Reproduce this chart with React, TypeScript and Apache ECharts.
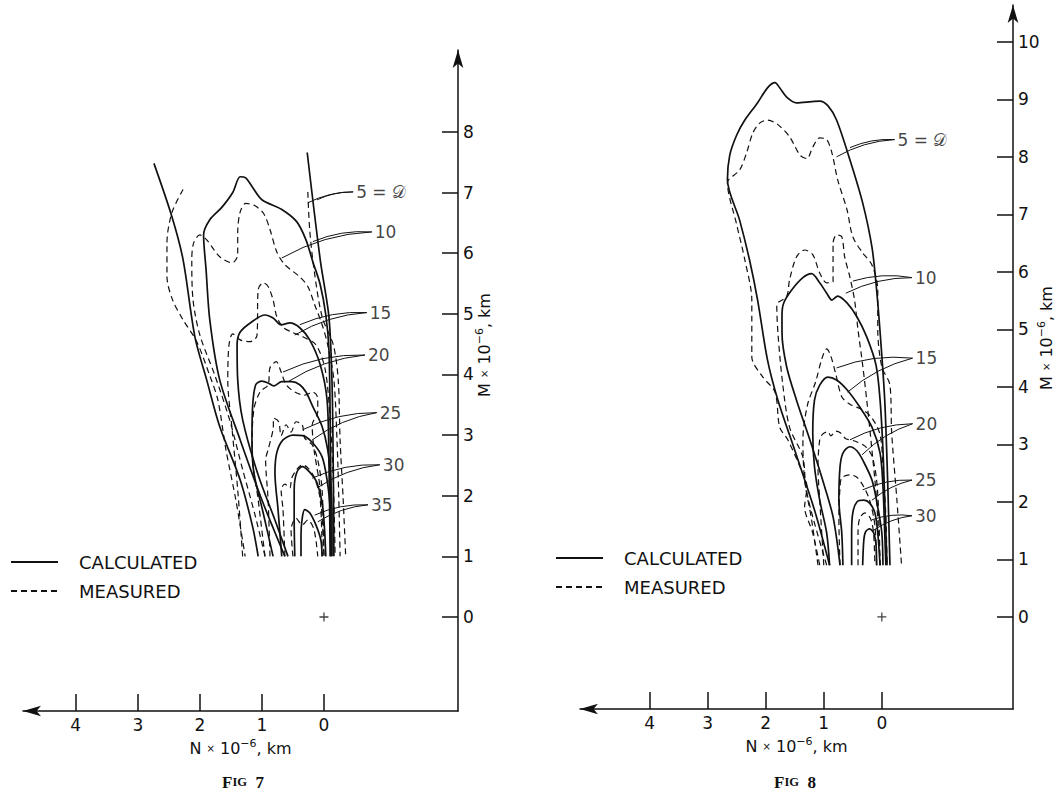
import React, { useEffect, useRef } from 'react';
import * as echarts from 'echarts';

const FONT = '"DejaVu Sans", "Liberation Sans", sans-serif';
const INK = '#111';

// ---------- Fig 7 contours, points are [N, M] (x 10^-6 km) ----------
const f7Calc5L = [[2.74,7.48],[2.45,6.60],[2.27,5.89],[2.08,4.62],[1.89,3.91],[1.68,3.14],[1.35,2.26],[1.15,1.49],[1.06,1.00]];
const f7Calc5R = [[0.27,7.66],[0.06,5.89],[-0.08,4.95],[-0.13,3.86],[-0.15,2.43],[-0.16,1.00]];
const f7Meas5L = [[2.27,7.05],[2.45,6.67],[2.53,6.17],[2.53,5.61],[2.44,5.23],[2.27,4.90],[2.05,4.54],[1.84,3.98],[1.71,3.58],[1.58,2.76],[1.42,1.93],[1.27,1.00]];
const f7Meas5R = [[0.26,7.01],[0.23,6.39],[0.16,5.73],[0.03,4.95],[-0.15,4.49],[-0.23,3.91],[-0.26,2.92],[-0.31,1.93],[-0.35,1.00]];
const f7Calc10 = [[0.63,1.00],[1.00,1.93],[1.35,2.92],[1.68,3.91],[1.84,4.90],[1.90,5.73],[1.94,6.30],[1.84,6.55],[1.65,6.75],[1.47,7.00],[1.35,7.26],[1.26,7.24],[1.16,7.10],[1.00,6.88],[0.68,6.72],[0.44,6.52],[0.29,6.22],[0.18,5.86],[0.06,5.48],[-0.03,4.98],[-0.08,4.41],[-0.10,3.25],[-0.11,2.10],[-0.11,1.00]];
const f7Meas10 = [[0.95,1.00],[1.11,1.68],[1.31,2.43],[1.52,3.25],[1.76,3.99],[2.00,4.65],[2.11,5.23],[2.13,5.89],[2.10,6.17],[2.00,6.30],[1.89,6.22],[1.68,5.94],[1.48,5.84],[1.39,5.97],[1.39,6.34],[1.35,6.68],[1.26,6.82],[1.11,6.78],[0.97,6.65],[0.87,6.39],[0.76,6.02],[0.63,5.81],[0.39,5.61],[0.26,5.45],[0.15,5.15],[0.03,4.82],[-0.06,4.49],[-0.16,3.91],[-0.21,2.92],[-0.24,1.93],[-0.26,1.00]];
const f7Calc15 = [[0.58,1.00],[0.79,1.60],[1.06,2.34],[1.31,3.25],[1.39,3.91],[1.40,4.49],[1.35,4.70],[1.16,4.87],[0.95,4.98],[0.82,4.93],[0.69,4.82],[0.55,4.85],[0.39,4.77],[0.23,4.57],[0.06,4.16],[-0.05,3.58],[-0.08,2.59],[-0.10,1.00]];
const f7Meas15 = [[1.31,1.00],[1.39,2.10],[1.48,3.09],[1.55,3.91],[1.53,4.49],[1.47,4.67],[1.35,4.57],[1.19,4.54],[1.08,4.64],[1.06,5.40],[0.98,5.51],[0.90,5.45],[0.82,5.23],[0.76,4.95],[0.65,4.77],[0.50,4.69],[0.34,4.62],[0.13,4.49],[-0.02,4.08],[-0.10,3.25],[-0.15,2.26],[-0.18,1.00]];
const f7Calc20 = [[0.82,1.00],[0.98,1.72],[1.13,2.38],[1.16,2.92],[1.15,3.47],[1.10,3.83],[1.00,3.89],[0.90,3.86],[0.81,3.81],[0.68,3.88],[0.52,3.88],[0.39,3.83],[0.29,3.71],[0.18,3.47],[0.03,3.14],[-0.06,2.76],[-0.11,2.26],[-0.13,1.60],[-0.13,1.00]];
const f7Meas20 = [[0.95,1.00],[1.06,1.93],[1.16,2.76],[1.13,3.42],[1.03,3.71],[0.90,3.83],[0.87,4.11],[0.77,4.21],[0.69,4.04],[0.61,3.83],[0.47,3.71],[0.31,3.66],[0.18,3.71],[0.10,3.61],[0.10,3.38],[0.19,3.17],[0.16,2.76],[0.06,2.10],[0.00,1.00]];
const f7Calc25 = [[0.68,1.00],[0.74,1.77],[0.79,2.38],[0.76,2.71],[0.66,2.92],[0.50,3.00],[0.34,2.99],[0.18,2.87],[0.03,2.64],[-0.05,2.26],[-0.10,1.77],[-0.11,1.00]];
const f7Meas25 = [[0.87,1.00],[0.90,1.93],[0.94,2.59],[0.90,2.76],[0.82,3.09],[0.81,3.28],[0.73,3.22],[0.69,2.99],[0.61,3.17],[0.53,3.05],[0.45,3.22],[0.35,3.17],[0.31,2.95],[0.19,2.84],[0.10,2.59],[0.03,2.10],[0.00,1.00]];
const f7Calc30 = [[0.47,1.00],[0.48,1.60],[0.48,2.10],[0.44,2.38],[0.35,2.48],[0.23,2.39],[0.11,2.21],[0.02,1.82],[-0.03,1.00]];
const f7Meas30 = [[0.63,1.00],[0.66,1.77],[0.69,2.10],[0.63,2.19],[0.55,2.13],[0.52,2.29],[0.44,2.43],[0.35,2.51],[0.26,2.46],[0.15,2.29],[0.06,1.93],[0.03,1.00]];
const f7Calc35 = [[0.37,1.00],[0.37,1.35],[0.35,1.63],[0.31,1.77],[0.23,1.72],[0.13,1.52],[0.05,1.27],[0.03,1.00]];
const f7Meas35 = [[0.50,1.00],[0.53,1.44],[0.45,1.63],[0.35,1.52],[0.26,1.60],[0.16,1.44],[0.10,1.00]];

const f7CalcCurves = [f7Calc5L, f7Calc5R, f7Calc10, f7Calc15, f7Calc20, f7Calc25, f7Calc30, f7Calc35];
const f7MeasCurves = [f7Meas5L, f7Meas5R, f7Meas10, f7Meas15, f7Meas20, f7Meas25, f7Meas30, f7Meas35];

const f7Labels = ['5 = 𝒟', '10', '15', '20', '25', '30', '35'];
const f7Anchors = [[-0.47,7.01],[-0.77,6.35],[-0.69,5.02],[-0.66,4.32],[-0.85,3.37],[-0.90,2.51],[-0.71,1.85]];
const f7TargetsA = [[0.26,6.83],[0.68,5.92],[0.39,4.82],[0.66,4.04],[0.34,3.09],[0.19,2.29],[0.15,1.68]];
const f7TargetsB = [[0.11,6.88],[0.18,6.19],[0.47,4.65],[0.58,3.88],[0.19,2.92],[0.11,2.13],[0.10,1.57]];

// ---------- Fig 8 contours ----------
const f8Calc5 = [[0.90,0.90],[1.16,1.86],[1.50,2.90],[1.79,3.77],[1.97,4.47],[2.14,5.51],[2.28,6.21],[2.45,6.90],[2.66,7.60],[2.62,8.03],[2.50,8.38],[2.36,8.64],[2.14,8.94],[1.97,9.20],[1.84,9.29],[1.76,9.20],[1.64,9.04],[1.47,8.94],[1.21,8.96],[1.07,8.97],[0.93,8.89],[0.78,8.64],[0.55,7.95],[0.33,7.20],[0.17,6.43],[0.09,5.69],[0.02,4.82],[-0.05,3.77],[-0.10,2.38],[-0.14,0.90]];
const f8Meas5 = [[1.07,0.90],[1.19,1.46],[1.33,1.91],[1.29,2.26],[1.41,2.61],[1.62,3.08],[1.76,3.30],[1.84,3.91],[2.05,4.17],[2.24,4.52],[2.24,5.51],[2.36,6.21],[2.50,6.82],[2.66,7.55],[2.45,7.77],[2.33,8.07],[2.22,8.42],[2.10,8.59],[1.97,8.64],[1.79,8.56],[1.59,8.35],[1.41,8.03],[1.29,7.97],[1.19,8.17],[1.07,8.33],[0.95,8.30],[0.86,8.07],[0.76,7.60],[0.60,7.08],[0.50,6.61],[0.33,6.33],[0.17,6.12],[0.07,5.69],[0.07,4.99],[0.00,4.35],[-0.14,4.03],[-0.17,3.20],[-0.26,2.03],[-0.34,0.90]];
const f8Calc10 = [[0.72,0.90],[0.84,1.74],[1.02,2.38],[1.24,3.08],[1.47,3.77],[1.64,4.35],[1.72,4.94],[1.72,5.25],[1.69,5.46],[1.55,5.69],[1.36,5.90],[1.21,5.97],[1.07,5.81],[0.95,5.63],[0.86,5.51],[0.76,5.58],[0.60,5.46],[0.43,5.22],[0.26,4.87],[0.10,4.38],[0.03,3.77],[-0.02,2.90],[-0.05,2.03],[-0.09,0.90]];
const f8Meas10 = [[0.95,0.90],[1.19,1.74],[1.31,2.26],[1.36,2.78],[1.59,3.30],[1.71,4.07],[1.79,4.94],[1.81,5.43],[1.64,5.57],[1.59,5.86],[1.47,6.26],[1.33,6.38],[1.19,6.30],[1.07,5.98],[0.95,5.81],[0.84,5.83],[0.84,6.50],[0.78,6.64],[0.69,6.61],[0.64,6.26],[0.55,5.91],[0.47,5.51],[0.41,4.99],[0.33,4.38],[0.26,3.77],[0.17,2.90],[0.09,2.03],[0.03,0.90]];
const f8Calc15 = [[0.90,0.90],[0.95,1.46],[1.07,2.03],[1.16,2.61],[1.19,3.20],[1.16,3.77],[1.07,4.03],[0.93,4.17],[0.78,4.12],[0.60,3.95],[0.38,3.65],[0.17,3.30],[0.03,2.85],[-0.02,2.26],[-0.05,1.46],[-0.07,0.90]];
const f8Meas15 = [[1.10,0.90],[1.21,1.69],[1.33,2.38],[1.36,3.08],[1.28,3.69],[1.14,4.09],[1.03,4.50],[0.95,4.66],[0.88,4.54],[0.79,4.21],[0.69,3.83],[0.55,3.70],[0.33,3.60],[0.17,3.46],[0.03,3.17],[-0.02,2.61],[-0.07,1.74],[-0.09,0.90]];
const f8Calc20 = [[0.67,0.90],[0.69,1.46],[0.74,2.03],[0.72,2.61],[0.67,2.85],[0.55,2.96],[0.43,2.89],[0.33,2.73],[0.17,2.38],[0.07,1.91],[0.00,1.46],[-0.02,0.90]];
const f8Meas20 = [[1.00,0.90],[1.07,2.03],[1.10,2.61],[1.07,3.08],[1.02,3.18],[0.93,3.22],[0.88,3.15],[0.79,3.23],[0.71,3.20],[0.62,3.10],[0.47,3.06],[0.29,2.97],[0.17,2.80],[0.09,2.38],[0.05,1.69],[0.03,0.90]];
const f8Calc25 = [[0.52,0.90],[0.52,1.46],[0.50,1.81],[0.43,2.00],[0.31,2.03],[0.21,1.98],[0.12,1.81],[0.07,1.46],[0.03,0.90]];
const f8Meas25 = [[0.72,0.90],[0.74,1.74],[0.72,2.26],[0.69,2.42],[0.55,2.47],[0.43,2.43],[0.31,2.26],[0.21,2.03],[0.12,1.60],[0.09,0.90]];
const f8Calc30 = [[0.33,0.90],[0.31,1.34],[0.28,1.48],[0.21,1.53],[0.14,1.46],[0.10,1.25],[0.09,0.90]];
const f8Meas30 = [[0.41,0.90],[0.41,1.46],[0.38,1.72],[0.29,1.81],[0.19,1.70],[0.14,1.43],[0.12,0.90]];

const f8CalcCurves = [f8Calc5, f8Calc10, f8Calc15, f8Calc20, f8Calc25, f8Calc30];
const f8MeasCurves = [f8Meas5, f8Meas10, f8Meas15, f8Meas20, f8Meas25, f8Meas30];

const f8Labels = ['5 = 𝒟', '10', '15', '20', '25', '30'];
const f8Anchors = [[-0.22,8.30],[-0.52,5.90],[-0.53,4.50],[-0.53,3.36],[-0.52,2.38],[-0.52,1.76]];
const f8TargetsA = [[0.55,8.16],[0.50,5.84],[0.78,4.33],[0.55,3.08],[0.33,2.21],[0.17,1.69]];
const f8TargetsB = [[0.78,8.00],[0.62,5.63],[0.59,3.91],[0.34,2.82],[0.17,2.03],[0.14,1.51]];

// axis ticks
const nTicks = [0, 1, 2, 3, 4];
const m7Ticks = [0, 1, 2, 3, 4, 5, 6, 7, 8];
const m8Ticks = [0, 1, 2, 3, 4, 5, 6, 7, 8, 9, 10];
const origin = [[0, 0]];

const legendNames = ['CALCULATED', 'MEASURED'];

function curve(data: number[][], dashed: boolean, idx: number) {
  return {
    type: 'line',
    name: dashed ? 'MEASURED' : 'CALCULATED',
    xAxisIndex: idx,
    yAxisIndex: idx,
    data,
    symbol: 'none',
    smooth: 0.3,
    silent: true,
    itemStyle: { color: INK },
    lineStyle: { color: INK, width: dashed ? 1.2 : 1.7, type: dashed ? [6, 4] : 'solid' },
    z: 3,
  };
}

function leaders(anchors: number[][], ta: number[][], tb: number[][], idx: number) {
  const data: any[] = [];
  anchors.forEach((a, i) => {
    data.push({ coords: [a, ta[i]] });
    data.push({ coords: [a, tb[i]] });
  });
  return {
    type: 'lines',
    coordinateSystem: 'cartesian2d',
    xAxisIndex: idx,
    yAxisIndex: idx,
    data,
    silent: true,
    lineStyle: { color: INK, width: 1, curveness: -0.12, opacity: 1 },
    z: 2,
  };
}

function labels(anchors: number[][], texts: string[], idx: number) {
  return {
    type: 'scatter',
    xAxisIndex: idx,
    yAxisIndex: idx,
    symbolSize: 0,
    silent: true,
    data: anchors.map((a, i) => ({ value: a, name: texts[i] })),
    label: {
      show: true,
      position: 'right',
      distance: 3,
      formatter: '{b}',
      fontFamily: FONT,
      fontSize: 17,
      color: INK,
    },
  };
}

function originMark(idx: number) {
  return {
    type: 'scatter',
    xAxisIndex: idx,
    yAxisIndex: idx,
    data: origin,
    silent: true,
    symbol: 'path://M4.3,0H5.7V4.3H10V5.7H5.7V10H4.3V5.7H0V4.3H4.3Z',
    symbolSize: 9,
    itemStyle: { color: INK },
  };
}

const nameRich = {
  t: { fontFamily: FONT, fontSize: 16, color: INK, lineHeight: 20 },
  x: { fontFamily: FONT, fontSize: 10, color: INK, lineHeight: 20 },
  s: { fontFamily: FONT, fontSize: 11, color: INK, verticalAlign: 'top', lineHeight: 20 },
};
const axisNameText = (v: string) => `{t|${v} }{x|×}{t| 10}{s|−6}{t|, km}`;

function xAxisDef(idx: number, min: number, max: number) {
  return {
    type: 'value',
    gridIndex: idx,
    inverse: true,
    min,
    max,
    position: 'bottom',
    name: axisNameText('N'),
    nameLocation: 'middle',
    nameGap: 27,
    nameTextStyle: { rich: nameRich },
    splitLine: { show: false },
    axisLine: {
      onZero: false,
      symbol: ['arrow', 'none'],
      symbolSize: [8, 18],
      lineStyle: { color: INK, width: 1.5 },
    },
    axisTick: { customValues: nTicks, inside: true, length: 17, lineStyle: { color: INK, width: 1.5 } },
    axisLabel: { customValues: nTicks, margin: 5, fontFamily: FONT, fontSize: 17, color: INK },
  };
}

function yAxisDef(idx: number, min: number, max: number, ticks: number[]) {
  return {
    type: 'value',
    gridIndex: idx,
    min,
    max,
    position: 'right',
    splitLine: { show: false },
    axisLine: {
      onZero: false,
      symbol: ['none', 'arrow'],
      symbolSize: [8, 18],
      lineStyle: { color: INK, width: 1.5 },
    },
    axisTick: { customValues: ticks, inside: true, length: 16, lineStyle: { color: INK, width: 1.5 } },
    axisLabel: { customValues: ticks, margin: 5, fontFamily: FONT, fontSize: 17, color: INK },
  };
}

function legendDef(left: number, top: number) {
  return {
    data: legendNames,
    orient: 'vertical',
    left,
    top,
    padding: 0,
    itemWidth: 47,
    itemHeight: 14,
    itemGap: 11,
    selectedMode: false,
    itemStyle: { color: 'rgba(0,0,0,0)', borderWidth: 0, opacity: 0 },
    textStyle: { fontFamily: FONT, fontSize: 18, color: INK, padding: [0, 0, 0, 16] },
  };
}

function figTitle(text: string, left: number) {
  return {
    text: `{f|F}{s|IG}{f|  ${text}}`,
    left,
    top: 772,
    padding: 0,
    textAlign: 'center',
    textStyle: {
      rich: {
        f: { fontFamily: '"Liberation Serif", "DejaVu Serif", serif', fontWeight: 'bold', fontSize: 17, color: INK, lineHeight: 20 },
        s: { fontFamily: '"Liberation Serif", "DejaVu Serif", serif', fontWeight: 'bold', fontSize: 12.5, color: INK, lineHeight: 20 },
      },
    },
  };
}

function yName(x: number, y: number) {
  return {
    type: 'text',
    x,
    y,
    rotation: Math.PI / 2,
    silent: true,
    style: {
      text: axisNameText('M'),
      rich: nameRich,
      align: 'center',
      verticalAlign: 'middle',
      fill: INK,
    },
  };
}

export default function App() {
  const ref = useRef<HTMLDivElement>(null);

  useEffect(() => {
    if (!ref.current) return;
    const chart = echarts.init(ref.current, undefined, { renderer: 'svg' });
    const series: any[] = [];
    f7CalcCurves.forEach((c) => series.push(curve(c, false, 0)));
    f7MeasCurves.forEach((c) => series.push(curve(c, true, 0)));
    f8CalcCurves.forEach((c) => series.push(curve(c, false, 1)));
    f8MeasCurves.forEach((c) => series.push(curve(c, true, 1)));
    series.push(leaders(f7Anchors, f7TargetsA, f7TargetsB, 0));
    series.push(leaders(f8Anchors, f8TargetsA, f8TargetsB, 1));
    series.push(labels(f7Anchors, f7Labels, 0));
    series.push(labels(f8Anchors, f8Labels, 1));
    series.push(originMark(0));
    series.push(originMark(1));

    chart.setOption({
      animation: false,
      backgroundColor: '#fff',
      title: [figTitle('7', 243), figTitle('8', 795)],
      legend: [legendDef(10, 553), legendDef(555, 549)],
      grid: [
        { left: 23, top: 50, width: 435, height: 661 },
        { left: 580, top: 5, width: 433, height: 704 },
      ],
      xAxis: [xAxisDef(0, -2.16, 4.85), xAxisDef(1, -2.26, 5.2)],
      yAxis: [yAxisDef(0, -1.55, 9.35, m7Ticks), yAxisDef(1, -1.6, 10.64, m8Ticks)],
      graphic: [yName(484, 345), yName(1046, 338)],
      series,
    });
    return () => chart.dispose();
  }, []);

  return (
    <div
      ref={ref}
      style={{ position: 'absolute', left: 0, top: 0, width: 1061, height: 794, background: '#fff' }}
    />
  );
}
